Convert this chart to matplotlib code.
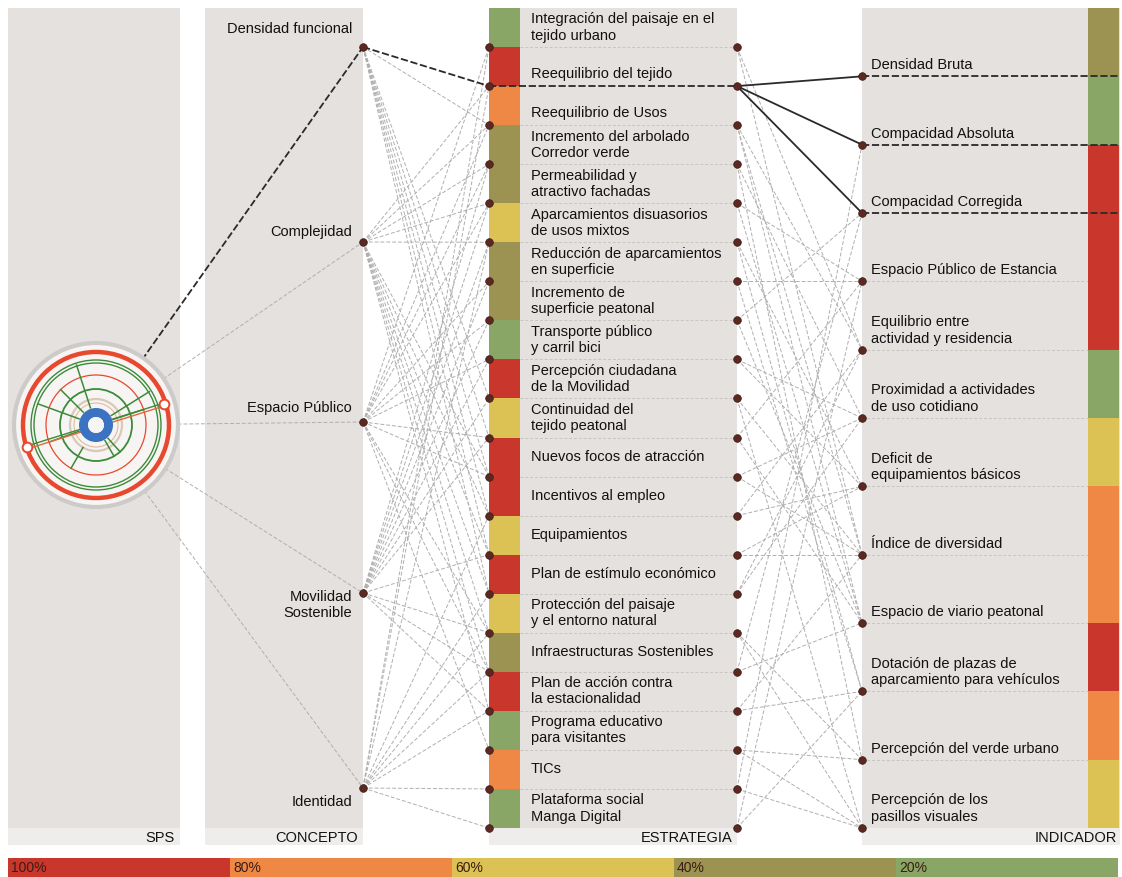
import matplotlib.pyplot as plt
from matplotlib.patches import Rectangle, Circle, Wedge
import numpy as np

plt.rcParams['font.family'] = ['Liberation Sans', 'DejaVu Sans']

# escala de colores
levels = [100, 80, 60, 40, 20]
level_labels = ['100%', '80%', '60%', '40%', '20%']
level_colors = ['#c9372c', '#ee8844', '#dcc154', '#9c9251', '#8aa667']

concepts = ['Densidad funcional', 'Complejidad', 'Espacio Público',
            'Movilidad\nSostenible', 'Identidad']

strategies = ['Integración del paisaje en el\ntejido urbano',
              'Reequilibrio del tejido',
              'Reequilibrio de Usos',
              'Incremento del arbolado\nCorredor verde',
              'Permeabilidad y\natractivo fachadas',
              'Aparcamientos disuasorios\nde usos mixtos',
              'Reducción de aparcamientos\nen superficie',
              'Incremento de\nsuperficie peatonal',
              'Transporte público\ny carril bici',
              'Percepción ciudadana\nde la Movilidad',
              'Continuidad del\ntejido peatonal',
              'Nuevos focos de atracción',
              'Incentivos al empleo',
              'Equipamientos',
              'Plan de estímulo económico',
              'Protección del paisaje\ny el entorno natural',
              'Infraestructuras Sostenibles',
              'Plan de acción contra\nla estacionalidad',
              'Programa educativo\npara visitantes',
              'TICs',
              'Plataforma social\nManga Digital']
strategy_levels = [20, 100, 80, 40, 40, 60, 40, 40, 20, 100, 60,
                   100, 100, 60, 100, 60, 40, 100, 20, 80, 20]

indicators = ['Densidad Bruta',
              'Compacidad Absoluta',
              'Compacidad Corregida',
              'Espacio Público de Estancia',
              'Equilibrio entre\nactividad y residencia',
              'Proximidad a actividades\nde uso cotidiano',
              'Deficit de\nequipamientos básicos',
              'Índice de diversidad',
              'Espacio de viario peatonal',
              'Dotación de plazas de\naparcamiento para vehículos',
              'Percepción del verde urbano',
              'Percepción de los\npasillos visuales']
indicator_levels = [40, 20, 100, 100, 100, 20, 60, 80, 80, 100, 80, 60]

# relaciones concepto -> estrategia
concept_links = [
    [1, 2, 9, 10, 11, 12, 13, 14],
    [1, 2, 3, 4, 5, 11, 12, 13, 14, 15, 16, 17],
    [0, 2, 3, 4, 6, 7, 8, 10, 11, 15, 16, 18],
    [3, 4, 5, 6, 7, 8, 9, 10, 13, 15, 16, 17],
    [0, 1, 5, 12, 14, 15, 16, 17, 19, 20],
]
# relaciones estrategia -> indicador
indicator_links = [
    [4, 7], [0, 1, 2], [4, 7, 8], [10, 5], [3, 8], [9, 6], [3, 9],
    [8, 2], [5, 6], [7, 11], [3, 8], [7, 5], [4, 6], [6, 7], [4, 5],
    [11, 10], [2, 8], [9, 7], [10, 11], [1, 11], [9, 3],
]
# recorrido destacado
hl_concept = 0
hl_strategy = 1
hl_indicators = [0, 1, 2]

col = dict(zip(levels, level_colors))
panel = '#e5e1de'
foot = '#efedeb'
dot = '#5c2822'
grey_line = '#afafaf'
txt = '#111111'
fs = 10.5

fig = plt.figure(figsize=(11.22, 8.77), dpi=100)
ax = fig.add_axes([0, 0, 1, 1])
ax.set_xlim(0, 1122)
ax.set_ylim(877, 0)
ax.axis('off')

top, body_bot, foot_bot = 8, 828, 845

# paneles de fondo
def panel_box(x0, x1, body_x0=None):
    ax.add_patch(Rectangle((x0, top), x1 - x0, body_bot - top, fc=panel, ec='none', zorder=0))
    bx = x0 if body_x0 is None else body_x0
    ax.add_patch(Rectangle((bx, body_bot), x1 - bx, foot_bot - body_bot, fc=foot, ec='none', zorder=0))

panel_box(8, 180)
panel_box(205, 363)
panel_box(520, 737, body_x0=489)
panel_box(862, 1120)

ax.text(175, 838, 'SPS', ha='right', va='center', fontsize=fs, color=txt)
ax.text(358, 838, 'CONCEPTO', ha='right', va='center', fontsize=fs, color=txt)
ax.text(733, 838, 'ESTRATEGIA', ha='right', va='center', fontsize=fs, color=txt)
ax.text(1117, 838, 'INDICADOR', ha='right', va='center', fontsize=fs, color=txt)

# posiciones
cx, cy = 96, 425
concept_x, s_left, s_right, ind_x = 363, 489, 737, 862
concept_y = [47, 242, 422, 593, 788]
concept_label_y = [29, 232, 408, 605, 802]
s_edges = np.linspace(top, body_bot, len(strategies) + 1)
i_edges = np.linspace(top, body_bot, len(indicators) + 1)
s_y = s_edges[1:]
i_y = i_edges[1:]

gkw = dict(color=grey_line, lw=0.7, dashes=(4, 2), zorder=2)
bkw = dict(color='#2a2a2a', lw=1.3, dashes=(4, 1.5), zorder=4)

# estrategias
for k, (name, lv) in enumerate(zip(strategies, strategy_levels)):
    y0, y1 = s_edges[k], s_edges[k + 1]
    ax.add_patch(Rectangle((489, y0), 31, y1 - y0, fc=col[lv], ec='none', zorder=1))
    yc = (y0 + y1) / 2 + (7 if k in (1, 2) else 0)
    ax.text(531, yc, name, ha='left', va='center', fontsize=fs, color=txt,
            linespacing=1.2, zorder=5)
    if k == hl_strategy:
        ax.plot([s_left, s_right], [y1, y1], **bkw)
    elif k < len(strategies) - 1:
        ax.plot([520, s_right], [y1, y1], color='#c9c5c1', lw=0.7, dashes=(3, 2), zorder=1)

# indicadores
for k, (name, lv) in enumerate(zip(indicators, indicator_levels)):
    y0, y1 = i_edges[k], i_edges[k + 1]
    ax.add_patch(Rectangle((1088, y0), 31, y1 - y0, fc=col[lv], ec='none', zorder=1))
    ax.text(871, y1 - 4, name, ha='left', va='bottom', fontsize=fs, color=txt,
            linespacing=1.25, zorder=5)
    if k in hl_indicators:
        ax.plot([ind_x, 1120], [y1, y1], **bkw)
    elif k < len(indicators) - 1:
        ax.plot([ind_x, 1088], [y1, y1], color='#c9c5c1', lw=0.7, dashes=(3, 2), zorder=1)

# conceptos
for name, ly in zip(concepts, concept_label_y):
    ax.text(352, ly, name, ha='right', va='center', fontsize=fs, color=txt,
            linespacing=1.2, zorder=5)

# SPS -> conceptos
for k, y in enumerate(concept_y):
    if k == hl_concept:
        ax.plot([cx, concept_x], [cy, y], **bkw)
    else:
        ax.plot([cx, concept_x], [cy, y], **gkw)

# conceptos -> estrategias
for k, links in enumerate(concept_links):
    for s in links:
        if k == hl_concept and s == hl_strategy:
            ax.plot([concept_x, s_left], [concept_y[k], s_y[s]], **bkw)
        else:
            ax.plot([concept_x, s_left], [concept_y[k], s_y[s]], **gkw)

# estrategias -> indicadores
for s, links in enumerate(indicator_links):
    for i in links:
        if s == hl_strategy and i in hl_indicators:
            ax.plot([s_right, ind_x], [s_y[s], i_y[i]], color='#2a2a2a', lw=1.3, zorder=4)
        else:
            ax.plot([s_right, ind_x], [s_y[s], i_y[i]], **gkw)

# puntos
mk = dict(marker='o', ms=5.5, color=dot, mec='#3a1814', mew=0.5, ls='none', zorder=6)
ax.plot([concept_x] * len(concept_y), concept_y, **mk)
ax.plot([s_left] * len(s_y), s_y, **mk)
ax.plot([s_right] * len(s_y), s_y, **mk)
ax.plot([ind_x] * len(i_y), i_y, **mk)

# diagrama circular SPS
ax.add_patch(Circle((cx, cy), 82, fc='#f6f5f3', ec='#cdcbc9', lw=3, zorder=7))
rings = [(73, '#e8482e', 3.2), (65, '#3d8a3a', 1.0), (62, '#3d8a3a', 1.0),
         (50, '#e8482e', 0.9), (36, '#3d8a3a', 1.3), (26, '#d9c9b8', 1.6),
         (22, '#e4b8a0', 0.8)]
for r, c, w in rings:
    ax.add_patch(Circle((cx, cy), r, fc='none', ec=c, lw=w, zorder=8))
spokes = [(-108, 18, 63), (-135, 18, 50), (-32, 18, 63), (-18, 18, 50),
          (48, 18, 36), (60, 18, 36), (160, 18, 50), (200, 18, 62), (120, 26, 50)]
for ang, r0, r1 in spokes:
    a = np.deg2rad(ang)
    ax.plot([cx + r0 * np.cos(a), cx + r1 * np.cos(a)],
            [cy + r0 * np.sin(a), cy + r1 * np.sin(a)], color='#3d8a3a', lw=1.1, zorder=9)
ax.plot([27, 164], [446, 403], color='#3d8a3a', lw=1.0, zorder=9)
ax.plot([27, 164], [449, 406], color='#e06a3c', lw=1.0, zorder=9)
ax.add_patch(Wedge((cx, cy), 17, 0, 360, width=9, fc='#3b72c2', ec='none', zorder=10))
ax.add_patch(Circle((cx, cy), 8, fc='#f6f5f3', ec='none', zorder=10))
ax.plot([27, 164], [447, 404], marker='o', ms=7, mfc='white', mec='#e8482e',
        mew=1.4, ls='none', zorder=11)

# leyenda inferior
seg = (1118 - 8) / len(levels)
for k, (lab, c) in enumerate(zip(level_labels, level_colors)):
    x0 = 8 + k * seg
    ax.add_patch(Rectangle((x0, 858), seg, 19, fc=c, ec='none', zorder=1))
    ax.text(x0 + 3, 868, lab, ha='left', va='center', fontsize=10, color='#3a1c14', zorder=2)

fig.savefig('out.png', dpi=100)
